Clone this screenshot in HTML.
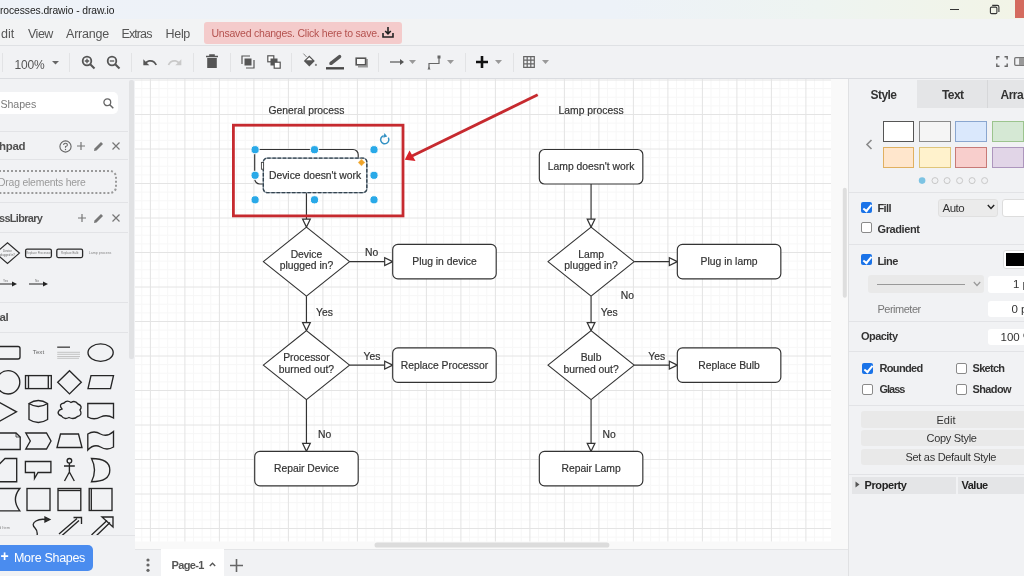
<!DOCTYPE html>
<html><head><meta charset="utf-8">
<style>
*{box-sizing:border-box;margin:0;padding:0}
html,body{width:1024px;height:576px;overflow:hidden;background:#f1f2f4;-webkit-font-smoothing:antialiased;font-family:"Liberation Sans",sans-serif;color:#333}
.a{position:absolute}
#canvas svg text{}
.t{position:absolute;white-space:nowrap;line-height:1}
#title{left:0;top:0;width:1024px;height:19px;background:linear-gradient(90deg,#eef2f8 0%,#edf2f8 60%,#eef4f1 80%,#f2f4e6 100%)}
#menubar{left:0;top:19px;width:1024px;height:27px;background:#f2f3f4;border-bottom:1px solid #dfe1e4}
#toolbar{left:0;top:46px;width:1024px;height:33px;background:#f1f2f4;border-bottom:1px solid #dadce0}
.sep{position:absolute;width:1px;background:#e2e3e5}
#left{left:0;top:79px;width:135px;height:497px;background:#f1f2f4}
#canvas{left:135px;top:79px;width:713px;height:470px;background:#f9f9f9;overflow:hidden}
#pagebar{left:135px;top:549px;width:713px;height:27px;background:#f1f2f4;border-top:1px solid #e4e5e7}
#right{left:848px;top:79px;width:176px;height:497px;background:#f1f2f4;border-left:1px solid #e0e1e3}
.hl{position:absolute;height:1px;background:#e2e3e6}
.cb{position:absolute;width:11px;height:11px;border-radius:2px}
.cb.on{background:#1a73e8}
.cb.on::after{content:"";position:absolute;left:3.6px;top:1.2px;width:3.4px;height:6.8px;border:solid #fff;border-width:0 2px 2px 0;transform:rotate(40deg)}
.cb.off{background:#fff;border:1px solid #8a8a8a}
.b{font-weight:bold}
</style></head>
<body>
<div id="root" style="position:absolute;left:0;top:0;width:1024px;height:576px;will-change:transform">
<div id="title" class="a"></div>
<div class="t" style="left:0px;top:5.5px;font-size:10.3px;color:#1c1c1c;letter-spacing:-0.07px">rocesses.drawio - draw.io</div>
<div class="a" style="left:950px;top:9px;width:9px;height:1px;background:#333"></div>
<svg class="a" style="left:988px;top:3px" width="13" height="13" viewBox="988 3 13 13"><rect x="990.4" y="7.1" width="6.5" height="6.5" rx="1.2" fill="none" stroke="#333" stroke-width="1.1"/><path d="M992.2 5.4H997.4Q998.9 5.4 998.9 6.9V12" fill="none" stroke="#333" stroke-width="1.1"/></svg>
<div class="a" style="left:1015px;top:0;width:9px;height:18px;background:#d46b5e"></div>

<div id="menubar" class="a"></div>
<div class="t" style="left:1px;top:28px;font-size:12.5px;color:#555">dit</div>
<div class="t" style="left:28px;top:28px;font-size:12.5px;color:#555;letter-spacing:-0.5px">View</div>
<div class="t" style="left:66px;top:28px;font-size:12.5px;color:#555;letter-spacing:-0.2px">Arrange</div>
<div class="t" style="left:121.5px;top:28px;font-size:12.5px;color:#555;letter-spacing:-0.9px">Extras</div>
<div class="t" style="left:165.5px;top:28px;font-size:12.5px;color:#555;letter-spacing:-0.3px">Help</div>
<div class="a" style="left:204px;top:22px;width:198px;height:22px;background:#f4cbcb;border-radius:3px"></div>
<div class="t" style="left:211.5px;top:28.3px;font-size:10.5px;color:#b4514e;letter-spacing:-0.23px">Unsaved changes. Click here to save.</div>
<svg class="a" style="left:382px;top:26px" width="12" height="12" viewBox="0 0 12 12"><path d="M6 1V7.5M3.2 5L6 7.8 8.8 5M1 7V11H11V7" fill="none" stroke="#222" stroke-width="1.6"/></svg>

<div id="toolbar" class="a"></div>
<div class="sep" style="left:2px;top:53px;height:19px"></div>
<div class="t" style="left:14.5px;top:59px;font-size:12px;color:#555;letter-spacing:-0.2px">100%</div>
<svg class="a" style="left:51.5px;top:61px" width="7" height="4"><path d="M0 0H7L3.5 3.5Z" fill="#666"/></svg>
<div class="sep" style="left:69px;top:53px;height:19px"></div>
<!-- zoom in/out -->
<svg class="a" style="left:81px;top:55px" width="15" height="15" viewBox="0 0 15 15"><circle cx="6" cy="6" r="4.3" fill="none" stroke="#555" stroke-width="1.8"/><path d="M9.2 9.2L13.5 13.5" stroke="#555" stroke-width="2"/><path d="M6 3.8V8.2M3.8 6H8.2" stroke="#555" stroke-width="1.3"/></svg>
<svg class="a" style="left:106px;top:55px" width="15" height="15" viewBox="0 0 15 15"><circle cx="6" cy="6" r="4.3" fill="none" stroke="#555" stroke-width="1.8"/><path d="M9.2 9.2L13.5 13.5" stroke="#555" stroke-width="2"/><path d="M3.8 6H8.2" stroke="#555" stroke-width="1.3"/></svg>
<div class="sep" style="left:131px;top:53px;height:19px"></div>
<svg class="a" style="left:142.5px;top:57.5px" width="16" height="12" viewBox="1.5 5 24 18"><path d="M12.5 8c-2.65 0-5.05.99-6.9 2.6L2 7v9h9l-3.62-3.62c1.39-1.16 3.16-1.88 5.12-1.88 3.54 0 6.55 2.31 7.6 5.5l2.370-.78C21.080 11.030 17.150 8 12.5 8z" fill="#555"/></svg>
<svg class="a" style="left:167px;top:57.5px" width="16" height="12" viewBox="0.5 5 24 18"><path d="M18.4 10.6C16.55 8.99 14.15 8 11.5 8c-4.65 0-8.58 3.03-9.96 7.22L3.9 16c1.05-3.19 4.05-5.5 7.6-5.5 1.95 0 3.73.72 5.12 1.88L13 16h9V7l-3.6 3.6z" fill="#c9c9c9"/></svg>
<div class="sep" style="left:193px;top:53px;height:19px"></div>
<svg class="a" style="left:205px;top:54px" width="14" height="15" viewBox="0 0 14 15"><path d="M1 2.5H13M5 2.5V1H9V2.5" stroke="#555" stroke-width="1.6" fill="none"/><path d="M2.2 4H11.8V14H2.2Z" fill="#555"/></svg>
<div class="sep" style="left:230px;top:53px;height:19px"></div>
<svg class="a" style="left:241px;top:55px" width="14" height="14" viewBox="0 0 14 14"><path d="M1 9V1H9" fill="none" stroke="#555" stroke-width="1.2"/><rect x="3.5" y="3.5" width="7" height="7" fill="#555"/><path d="M5 13H13V5" fill="none" stroke="#555" stroke-width="1.2"/></svg>
<svg class="a" style="left:267px;top:55px" width="14" height="14" viewBox="0 0 14 14"><rect x="0.8" y="0.8" width="6" height="6" fill="#fff" stroke="#555" stroke-width="1.2"/><rect x="3.5" y="3.5" width="7" height="7" fill="#555"/><rect x="7.2" y="7.2" width="6" height="6" fill="#fff" stroke="#555" stroke-width="1.2"/></svg>
<div class="sep" style="left:291px;top:53px;height:19px"></div>
<svg class="a" style="left:300px;top:50px" width="20" height="20" viewBox="300 50 20 20"><path d="M303.4 53.6L306.6 57" stroke="#777" stroke-width="0.9"/><path d="M303.8 61L309.3 55.5L314.8 61L309.3 66.5Z" fill="#555"/><path d="M306.2 60.2L309.3 57.2L312.4 60.2Z" fill="#fff"/><circle cx="315.9" cy="64.9" r="1.1" fill="#888"/></svg>
<svg class="a" style="left:324px;top:50px" width="22" height="22" viewBox="324 50 22 22"><path d="M331 63.3L339.6 56.6" stroke="#555" stroke-width="3.4" stroke-linecap="round"/><path d="M329.6 64.9L330.2 61.6L332.7 64Z" fill="#555"/><rect x="326" y="67.1" width="18" height="2.4" fill="#484848"/></svg>
<svg class="a" style="left:352px;top:54px" width="18" height="16" viewBox="352 54 18 16"><path d="M358 66.6H367V59" fill="none" stroke="#9a9a9a" stroke-width="1.8"/><rect x="356.2" y="58.2" width="9.4" height="6.6" fill="#fafafa" stroke="#555" stroke-width="1.6"/></svg>
<div class="sep" style="left:378px;top:53px;height:19px"></div>
<svg class="a" style="left:390px;top:58px" width="15" height="8" viewBox="0 0 15 8"><path d="M0 4H11" stroke="#555" stroke-width="1.2"/><path d="M10 1L14 4L10 7Z" fill="#555"/></svg>
<svg class="a" style="left:409px;top:60px" width="7" height="4"><path d="M0 0H7L3.5 4Z" fill="#999"/></svg>
<svg class="a" style="left:427px;top:55px" width="15" height="15" viewBox="0 0 15 15"><path d="M2 13V8.5H12V2" fill="none" stroke="#666" stroke-width="1.2"/><rect x="10.5" y="0.5" width="3" height="3" fill="#666"/><path d="M0.5 14.5L2 11.5 3.5 14.5Z" fill="#666"/></svg>
<svg class="a" style="left:447px;top:60px" width="7" height="4"><path d="M0 0H7L3.5 4Z" fill="#999"/></svg>
<div class="sep" style="left:465px;top:53px;height:19px"></div>
<svg class="a" style="left:476px;top:56px" width="12" height="12" viewBox="0 0 12 12"><path d="M6 0V12M0 6H12" stroke="#111" stroke-width="2.6"/></svg>
<svg class="a" style="left:495px;top:60px" width="7" height="4"><path d="M0 0H7L3.5 4Z" fill="#999"/></svg>
<div class="sep" style="left:513px;top:53px;height:19px"></div>
<svg class="a" style="left:523px;top:56px" width="12" height="12" viewBox="0 0 12 12"><path d="M0.7 0.7H11.3V11.3H0.7ZM0.7 4.2H11.3M0.7 7.8H11.3M4.2 0.7V11.3M7.8 0.7V11.3" fill="none" stroke="#666" stroke-width="1.2"/></svg>
<svg class="a" style="left:542px;top:60px" width="7" height="4"><path d="M0 0H7L3.5 4Z" fill="#999"/></svg>
<svg class="a" style="left:996px;top:56px" width="12" height="11" viewBox="0 0 12 11"><path d="M0.8 3.5V0.8H3.5M8.5 0.8H11.2V3.5M11.2 7.5V10.2H8.5M3.5 10.2H0.8V7.5" fill="none" stroke="#666" stroke-width="1.4"/></svg>
<svg class="a" style="left:1014px;top:57px" width="10" height="9" viewBox="0 0 10 9"><rect x="0.7" y="0.7" width="12" height="7.6" rx="1" fill="none" stroke="#777" stroke-width="1.3"/><rect x="5" y="1" width="6" height="7" fill="#999"/></svg>

<div id="left" class="a"></div>

<!-- LEFT PANEL -->
<div class="a" style="left:-10px;top:92px;width:128px;height:22px;background:#fff;border-radius:5px"></div>
<div class="t" style="left:0.5px;top:98.5px;font-size:10.6px;color:#7a7a7a;letter-spacing:-0.05px">Shapes</div>
<svg class="a" style="left:103px;top:98px" width="11" height="11" viewBox="0 0 11 11"><circle cx="4.3" cy="4.3" r="3.4" fill="none" stroke="#666" stroke-width="1.3"/><path d="M6.8 6.8L10.3 10.3" stroke="#666" stroke-width="1.5"/></svg>
<div class="hl" style="left:0;top:131px;width:128px"></div>
<div class="t b" style="left:-1px;top:141px;font-size:11.5px;color:#505050;letter-spacing:-0.3px">hpad</div>
<svg class="a" style="left:59px;top:140px" width="13" height="13" viewBox="0 0 13 13"><circle cx="6.5" cy="6.5" r="5.6" fill="none" stroke="#666" stroke-width="1.1"/><path d="M4.6 5.1Q4.6 3.3 6.5 3.3Q8.4 3.3 8.4 4.9Q8.4 6 6.5 6.6V7.8" fill="none" stroke="#666" stroke-width="1.1"/><circle cx="6.5" cy="9.5" r="0.7" fill="#666"/></svg>
<svg class="a" style="left:77px;top:142px" width="8" height="8" viewBox="0 0 8 8"><path d="M4 0V8M0 4H8" stroke="#777" stroke-width="1.2"/></svg>
<svg class="a" style="left:93px;top:141px" width="11" height="11" viewBox="0 0 11 11"><path d="M1 10L1.5 7.5L8 1L10 3L3.5 9.5Z" fill="#777"/></svg>
<svg class="a" style="left:112px;top:142px" width="8" height="8" viewBox="0 0 8 8"><path d="M0.5 0.5L7.5 7.5M7.5 0.5L0.5 7.5" stroke="#777" stroke-width="1.2"/></svg>
<div class="hl" style="left:0;top:159px;width:128px"></div>
<div class="a" style="left:-12px;top:170px;width:129px;height:24px;border:2px dotted #9a9a9a;border-radius:7px"></div>
<div class="t" style="left:-2px;top:177.5px;font-size:10.4px;color:#9a9a9a;letter-spacing:-0.2px">Drag elements here</div>
<div class="hl" style="left:0;top:202px;width:128px"></div>
<div class="t b" style="left:-1px;top:213px;font-size:11px;color:#505050;letter-spacing:-0.7px">ssLibrary</div>
<svg class="a" style="left:78px;top:214px" width="8" height="8" viewBox="0 0 8 8"><path d="M4 0V8M0 4H8" stroke="#777" stroke-width="1.2"/></svg>
<svg class="a" style="left:93px;top:213px" width="11" height="11" viewBox="0 0 11 11"><path d="M1 10L1.5 7.5L8 1L10 3L3.5 9.5Z" fill="#777"/></svg>
<svg class="a" style="left:112px;top:214px" width="8" height="8" viewBox="0 0 8 8"><path d="M0.5 0.5L7.5 7.5M7.5 0.5L0.5 7.5" stroke="#777" stroke-width="1.2"/></svg>
<div class="hl" style="left:0;top:232px;width:128px"></div>
<svg class="a" style="left:0;top:236px" width="128" height="60" viewBox="0 0 128 60">
 <path d="M-4.5 17.1L7.5 6.8L19.4 17.1L7.5 27.4Z" fill="none" stroke="#2a2a2a" stroke-width="1.2"/>
 <text x="7.5" y="16.2" font-size="2.9" text-anchor="middle" fill="#666" font-family="Liberation Sans">Device</text><text x="7.5" y="19.6" font-size="2.9" text-anchor="middle" fill="#666" font-family="Liberation Sans">plugged in?</text>
 <rect x="25.6" y="13.2" width="25.8" height="8.4" rx="1.5" fill="none" stroke="#2a2a2a" stroke-width="1.3"/>
 <rect x="56.8" y="13.2" width="25.8" height="8.4" rx="1.5" fill="none" stroke="#2a2a2a" stroke-width="1.3"/>
 <text x="38.5" y="18.4" font-size="2.9" text-anchor="middle" fill="#777" font-family="Liberation Sans">Replace Processor</text>
 <text x="69.7" y="18.4" font-size="2.9" text-anchor="middle" fill="#777" font-family="Liberation Sans">Replace Bulb</text>
 <text x="100" y="17.6" font-size="3.6" text-anchor="middle" fill="#888" font-family="Liberation Sans">Lamp process</text>
 <path d="M-2 48H13" stroke="#222" stroke-width="1"/><path d="M12 45.5L17 48L12 50.5Z" fill="#222"/>
 <path d="M29 48H44" stroke="#222" stroke-width="1"/><path d="M43 45.5L48 48L43 50.5Z" fill="#222"/>
 <text x="5.5" y="45.5" font-size="3.2" text-anchor="middle" fill="#777" font-family="Liberation Sans">Yes</text><text x="37" y="45.5" font-size="3.2" text-anchor="middle" fill="#777" font-family="Liberation Sans">No</text>
</svg>
<div class="hl" style="left:0;top:302px;width:128px"></div>
<div class="t b" style="left:-0.5px;top:312px;font-size:11.5px;color:#505050;letter-spacing:-0.5px">al</div>
<div class="hl" style="left:0;top:332px;width:128px"></div>
<svg class="a" style="left:0;top:335px" width="128" height="200" viewBox="0 335 128 200" fill="none" stroke="#262626" stroke-width="1.35">
 <rect x="-10" y="346.5" width="30" height="12.5" rx="2"/>
 <text x="38.5" y="354.2" font-size="6.2" text-anchor="middle" fill="#666" stroke="none" font-family="Liberation Sans">Text</text>
 <path d="M57.2 347.2H70" stroke="#555" stroke-width="1.5"/>
 <path d="M57.2 352.3H80M57.2 354.3H80M57.2 356.5H80M57.2 358.3H79" stroke="#c4c4c4" stroke-width="1"/>
 <ellipse cx="100.6" cy="352.6" rx="12.6" ry="8.7"/>
 <circle cx="8.1" cy="382.3" r="11.7"/>
 <rect x="25.5" y="375.6" width="25.8" height="13"/><path d="M28.5 375.6V388.6M48.3 375.6V388.6"/>
 <path d="M69.5 370.7L81.3 382.3L69.5 393.9L57.7 382.3Z"/>
 <path d="M91 375.6H113.5L110.5 388.6H88Z"/>
 <path d="M-3 401L16.5 411.8L-3 422.6"/>
 <path d="M29 403.5V419.5Q38.3 425.5 47.6 419.5V403.5Q38.3 397.5 29 403.5Q38.3 409.5 47.6 403.5"/>
 <path d="M62 409Q58 404 64 403Q67 399.5 71 402.5Q75 400 78 404Q83 406 80 410Q83 415 77.5 416.5Q74 420 69 417.5Q64 420 61.5 416Q56 414 59.5 410Z"/>
 <path d="M87.8 403.5H113.5V418Q107 414 100.5 417Q94 420.5 87.8 417Z"/>
 <path d="M-3 433H16L20.2 437V449.5H-3"/><path d="M16 433V437H20.2" stroke-width="0.8"/>
 <path d="M25.8 433H46.5L51 441L46.5 449H25.8L30.3 441Z"/>
 <path d="M60.5 434H78.5L82 447.5H57Z"/>
 <path d="M87.8 434Q94 430 100.5 434Q107 437.5 113.5 431.5V447Q107 451 100.5 447Q94 443.5 87.8 450Z"/>
 <path d="M5 458.5H16.7V481.7H-3V466.5Z"/>
 <path d="M25.4 461.5H50.9V472.5H38L34.5 478.5V472.5H25.4Z"/>
 <circle cx="69.4" cy="460.8" r="2.3"/><path d="M69.4 463.1V472M64 466H74.8M69.4 472L64.5 481M69.4 472L74.3 481"/>
 <path d="M91.5 458.5Q109.8 458.5 109.8 470Q109.8 481.7 91.5 481.7Q97.5 470 91.5 458.5Z"/>
 <path d="M-3 488.5H19.8Q11 499.5 19.8 510.8H-3Z"/>
 <rect x="27" y="488.5" width="23" height="22"/>
 <rect x="58" y="488.5" width="22.8" height="22"/><path d="M58 490.5H80.8"/>
 <rect x="89.2" y="488.5" width="22.8" height="22"/><path d="M91.3 488.5V510.5"/>
 <path d="M37 536Q38 531 35 528Q31 524 36 521Q40 518.5 46 519.5"/><path d="M45 517L49.8 519.5L45 522Z" fill="#333"/>
 <path d="M59 534L77 518.5M61.5 536L79 520.5"/><path d="M73.5 517.5H81.5V524" />
 <path d="M91.5 535L107 520.5M95 537L110 522.5"/><path d="M102 517H113V527Z"/>
</svg>
<div class="t" style="left:-1px;top:526px;font-size:4px;color:#888">d Item</div>
<div class="a" style="left:129px;top:80px;width:4.5px;height:279px;background:#e1e2e4;border-radius:2px"></div>
<div class="hl" style="left:0;top:535px;width:135px"></div>
<div class="a" style="left:-8px;top:545px;width:101px;height:26px;background:#4a8cef;border-radius:5px"></div>
<div class="t b" style="left:0.5px;top:549px;font-size:14px;color:#fff">+</div>
<div class="t" style="left:14px;top:551.5px;font-size:12.5px;color:#fff;letter-spacing:-0.3px">More Shapes</div>
<!--CANVAS_START-->
<div id="canvas" class="a"><svg width="713" height="470" style="position:absolute;left:0;top:0">
<rect x="0" y="0" width="696" height="462.5" fill="#fff"/>
<g stroke-width="1">
<path d="M6.78 0V462.5" stroke="#f7f7f7"/>
<path d="M24.03 0V462.5" stroke="#f7f7f7"/>
<path d="M32.65 0V462.5" stroke="#f7f7f7"/>
<path d="M41.28 0V462.5" stroke="#f7f7f7"/>
<path d="M58.53 0V462.5" stroke="#f7f7f7"/>
<path d="M67.15 0V462.5" stroke="#f7f7f7"/>
<path d="M75.78 0V462.5" stroke="#f7f7f7"/>
<path d="M93.03 0V462.5" stroke="#f7f7f7"/>
<path d="M101.65 0V462.5" stroke="#f7f7f7"/>
<path d="M110.28 0V462.5" stroke="#f7f7f7"/>
<path d="M127.52 0V462.5" stroke="#f7f7f7"/>
<path d="M136.15 0V462.5" stroke="#f7f7f7"/>
<path d="M144.77 0V462.5" stroke="#f7f7f7"/>
<path d="M162.02 0V462.5" stroke="#f7f7f7"/>
<path d="M170.65 0V462.5" stroke="#f7f7f7"/>
<path d="M179.27 0V462.5" stroke="#f7f7f7"/>
<path d="M196.52 0V462.5" stroke="#f7f7f7"/>
<path d="M205.15 0V462.5" stroke="#f7f7f7"/>
<path d="M213.78 0V462.5" stroke="#f7f7f7"/>
<path d="M231.02 0V462.5" stroke="#f7f7f7"/>
<path d="M239.65 0V462.5" stroke="#f7f7f7"/>
<path d="M248.27 0V462.5" stroke="#f7f7f7"/>
<path d="M265.53 0V462.5" stroke="#f7f7f7"/>
<path d="M274.15 0V462.5" stroke="#f7f7f7"/>
<path d="M282.77 0V462.5" stroke="#f7f7f7"/>
<path d="M300.02 0V462.5" stroke="#f7f7f7"/>
<path d="M308.65 0V462.5" stroke="#f7f7f7"/>
<path d="M317.27 0V462.5" stroke="#f7f7f7"/>
<path d="M334.52 0V462.5" stroke="#f7f7f7"/>
<path d="M343.15 0V462.5" stroke="#f7f7f7"/>
<path d="M351.77 0V462.5" stroke="#f7f7f7"/>
<path d="M369.03 0V462.5" stroke="#f7f7f7"/>
<path d="M377.65 0V462.5" stroke="#f7f7f7"/>
<path d="M386.27 0V462.5" stroke="#f7f7f7"/>
<path d="M403.52 0V462.5" stroke="#f7f7f7"/>
<path d="M412.15 0V462.5" stroke="#f7f7f7"/>
<path d="M420.77 0V462.5" stroke="#f7f7f7"/>
<path d="M438.02 0V462.5" stroke="#f7f7f7"/>
<path d="M446.65 0V462.5" stroke="#f7f7f7"/>
<path d="M455.28 0V462.5" stroke="#f7f7f7"/>
<path d="M472.53 0V462.5" stroke="#f7f7f7"/>
<path d="M481.15 0V462.5" stroke="#f7f7f7"/>
<path d="M489.77 0V462.5" stroke="#f7f7f7"/>
<path d="M507.02 0V462.5" stroke="#f7f7f7"/>
<path d="M515.65 0V462.5" stroke="#f7f7f7"/>
<path d="M524.27 0V462.5" stroke="#f7f7f7"/>
<path d="M541.52 0V462.5" stroke="#f7f7f7"/>
<path d="M550.15 0V462.5" stroke="#f7f7f7"/>
<path d="M558.77 0V462.5" stroke="#f7f7f7"/>
<path d="M576.02 0V462.5" stroke="#f7f7f7"/>
<path d="M584.65 0V462.5" stroke="#f7f7f7"/>
<path d="M593.27 0V462.5" stroke="#f7f7f7"/>
<path d="M610.52 0V462.5" stroke="#f7f7f7"/>
<path d="M619.15 0V462.5" stroke="#f7f7f7"/>
<path d="M627.77 0V462.5" stroke="#f7f7f7"/>
<path d="M645.02 0V462.5" stroke="#f7f7f7"/>
<path d="M653.65 0V462.5" stroke="#f7f7f7"/>
<path d="M662.27 0V462.5" stroke="#f7f7f7"/>
<path d="M679.53 0V462.5" stroke="#f7f7f7"/>
<path d="M688.15 0V462.5" stroke="#f7f7f7"/>
<path d="M0 9.62H696" stroke="#f7f7f7"/>
<path d="M0 18.25H696" stroke="#f7f7f7"/>
<path d="M0 26.88H696" stroke="#f7f7f7"/>
<path d="M0 44.12H696" stroke="#f7f7f7"/>
<path d="M0 52.75H696" stroke="#f7f7f7"/>
<path d="M0 61.38H696" stroke="#f7f7f7"/>
<path d="M0 78.62H696" stroke="#f7f7f7"/>
<path d="M0 87.25H696" stroke="#f7f7f7"/>
<path d="M0 95.88H696" stroke="#f7f7f7"/>
<path d="M0 113.12H696" stroke="#f7f7f7"/>
<path d="M0 121.75H696" stroke="#f7f7f7"/>
<path d="M0 130.38H696" stroke="#f7f7f7"/>
<path d="M0 147.62H696" stroke="#f7f7f7"/>
<path d="M0 156.25H696" stroke="#f7f7f7"/>
<path d="M0 164.88H696" stroke="#f7f7f7"/>
<path d="M0 182.12H696" stroke="#f7f7f7"/>
<path d="M0 190.75H696" stroke="#f7f7f7"/>
<path d="M0 199.38H696" stroke="#f7f7f7"/>
<path d="M0 216.62H696" stroke="#f7f7f7"/>
<path d="M0 225.25H696" stroke="#f7f7f7"/>
<path d="M0 233.88H696" stroke="#f7f7f7"/>
<path d="M0 251.12H696" stroke="#f7f7f7"/>
<path d="M0 259.75H696" stroke="#f7f7f7"/>
<path d="M0 268.38H696" stroke="#f7f7f7"/>
<path d="M0 285.62H696" stroke="#f7f7f7"/>
<path d="M0 294.25H696" stroke="#f7f7f7"/>
<path d="M0 302.88H696" stroke="#f7f7f7"/>
<path d="M0 320.12H696" stroke="#f7f7f7"/>
<path d="M0 328.75H696" stroke="#f7f7f7"/>
<path d="M0 337.38H696" stroke="#f7f7f7"/>
<path d="M0 354.62H696" stroke="#f7f7f7"/>
<path d="M0 363.25H696" stroke="#f7f7f7"/>
<path d="M0 371.88H696" stroke="#f7f7f7"/>
<path d="M0 389.13H696" stroke="#f7f7f7"/>
<path d="M0 397.75H696" stroke="#f7f7f7"/>
<path d="M0 406.38H696" stroke="#f7f7f7"/>
<path d="M0 423.62H696" stroke="#f7f7f7"/>
<path d="M0 432.25H696" stroke="#f7f7f7"/>
<path d="M0 440.88H696" stroke="#f7f7f7"/>
<path d="M0 458.12H696" stroke="#f7f7f7"/>
<path d="M15.40 0V462.5" stroke="#e4e4e4"/>
<path d="M49.90 0V462.5" stroke="#e4e4e4"/>
<path d="M84.40 0V462.5" stroke="#e4e4e4"/>
<path d="M118.90 0V462.5" stroke="#e4e4e4"/>
<path d="M153.40 0V462.5" stroke="#e4e4e4"/>
<path d="M187.90 0V462.5" stroke="#e4e4e4"/>
<path d="M222.40 0V462.5" stroke="#e4e4e4"/>
<path d="M256.90 0V462.5" stroke="#e4e4e4"/>
<path d="M291.40 0V462.5" stroke="#e4e4e4"/>
<path d="M325.90 0V462.5" stroke="#e4e4e4"/>
<path d="M360.40 0V462.5" stroke="#e4e4e4"/>
<path d="M394.90 0V462.5" stroke="#e4e4e4"/>
<path d="M429.40 0V462.5" stroke="#e4e4e4"/>
<path d="M463.90 0V462.5" stroke="#e4e4e4"/>
<path d="M498.40 0V462.5" stroke="#e4e4e4"/>
<path d="M532.90 0V462.5" stroke="#e4e4e4"/>
<path d="M567.40 0V462.5" stroke="#e4e4e4"/>
<path d="M601.90 0V462.5" stroke="#e4e4e4"/>
<path d="M636.40 0V462.5" stroke="#e4e4e4"/>
<path d="M670.90 0V462.5" stroke="#e4e4e4"/>
<path d="M0 1.00H696" stroke="#e4e4e4"/>
<path d="M0 35.50H696" stroke="#e4e4e4"/>
<path d="M0 70.00H696" stroke="#e4e4e4"/>
<path d="M0 104.50H696" stroke="#e4e4e4"/>
<path d="M0 139.00H696" stroke="#e4e4e4"/>
<path d="M0 173.50H696" stroke="#e4e4e4"/>
<path d="M0 208.00H696" stroke="#e4e4e4"/>
<path d="M0 242.50H696" stroke="#e4e4e4"/>
<path d="M0 277.00H696" stroke="#e4e4e4"/>
<path d="M0 311.50H696" stroke="#e4e4e4"/>
<path d="M0 346.00H696" stroke="#e4e4e4"/>
<path d="M0 380.50H696" stroke="#e4e4e4"/>
<path d="M0 415.00H696" stroke="#e4e4e4"/>
<path d="M0 449.50H696" stroke="#e4e4e4"/>
</g>
<g transform="translate(16.19999999999999 36.0) scale(0.8625)">
<text x="180" y="-1.6" font-family="Liberation Sans" font-size="12" fill="#333" stroke="#333" stroke-width="0.22" text-anchor="middle">General process</text>
<text x="510" y="-1.6" font-family="Liberation Sans" font-size="12" fill="#333" stroke="#333" stroke-width="0.22" text-anchor="middle">Lamp process</text>
<path d="M180 80V120.7" stroke="#333" stroke-width="1.35" fill="none"/><path d="M180 130L175.5 120.7L184.5 120.7Z" fill="#fff" stroke="#333" stroke-width="1.35"/>
<path d="M180 210V240.7" stroke="#333" stroke-width="1.35" fill="none"/><path d="M180 250L175.5 240.7L184.5 240.7Z" fill="#fff" stroke="#333" stroke-width="1.35"/>
<path d="M180 330V380.7" stroke="#333" stroke-width="1.35" fill="none"/><path d="M180 390L175.5 380.7L184.5 380.7Z" fill="#fff" stroke="#333" stroke-width="1.35"/>
<path d="M230 170H270.7" stroke="#333" stroke-width="1.35" fill="none"/><path d="M280 170L270.7 165.5L270.7 174.5Z" fill="#fff" stroke="#333" stroke-width="1.35"/>
<path d="M230 290H270.7" stroke="#333" stroke-width="1.35" fill="none"/><path d="M280 290L270.7 285.5L270.7 294.5Z" fill="#fff" stroke="#333" stroke-width="1.35"/>
<path d="M510 80V120.7" stroke="#333" stroke-width="1.35" fill="none"/><path d="M510 130L505.5 120.7L514.5 120.7Z" fill="#fff" stroke="#333" stroke-width="1.35"/>
<path d="M510 210V240.7" stroke="#333" stroke-width="1.35" fill="none"/><path d="M510 250L505.5 240.7L514.5 240.7Z" fill="#fff" stroke="#333" stroke-width="1.35"/>
<path d="M510 330V380.7" stroke="#333" stroke-width="1.35" fill="none"/><path d="M510 390L505.5 380.7L514.5 380.7Z" fill="#fff" stroke="#333" stroke-width="1.35"/>
<path d="M560 170H600.7" stroke="#333" stroke-width="1.35" fill="none"/><path d="M610 170L600.7 165.5L600.7 174.5Z" fill="#fff" stroke="#333" stroke-width="1.35"/>
<path d="M560 290H600.7" stroke="#333" stroke-width="1.35" fill="none"/><path d="M610 290L600.7 285.5L600.7 294.5Z" fill="#fff" stroke="#333" stroke-width="1.35"/>
<text x="201" y="233.2" font-family="Liberation Sans" font-size="12" fill="#333" stroke="#333" stroke-width="0.22" text-anchor="middle">Yes</text>
<text x="255.5" y="163.89999999999998" font-family="Liberation Sans" font-size="12" fill="#333" stroke="#333" stroke-width="0.22" text-anchor="middle">No</text>
<text x="256" y="284.2" font-family="Liberation Sans" font-size="12" fill="#333" stroke="#333" stroke-width="0.22" text-anchor="middle">Yes</text>
<text x="201" y="374.2" font-family="Liberation Sans" font-size="12" fill="#333" stroke="#333" stroke-width="0.22" text-anchor="middle">No</text>
<text x="531" y="233.2" font-family="Liberation Sans" font-size="12" fill="#333" stroke="#333" stroke-width="0.22" text-anchor="middle">Yes</text>
<text x="552" y="213.79999999999998" font-family="Liberation Sans" font-size="12" fill="#333" stroke="#333" stroke-width="0.22" text-anchor="middle">No</text>
<text x="586" y="284.2" font-family="Liberation Sans" font-size="12" fill="#333" stroke="#333" stroke-width="0.22" text-anchor="middle">Yes</text>
<text x="531" y="374.2" font-family="Liberation Sans" font-size="12" fill="#333" stroke="#333" stroke-width="0.22" text-anchor="middle">No</text>
<rect x="120" y="40" width="120" height="40" rx="6" fill="#fff" stroke="#333" stroke-width="1.35"/><text x="180.0" y="64.2" font-family="Liberation Sans" font-size="12" fill="#333" stroke="#333" stroke-width="0.22" text-anchor="middle"></text>
<rect x="280" y="150" width="120" height="40" rx="6" fill="#fff" stroke="#333" stroke-width="1.35"/><text x="340.0" y="174.2" font-family="Liberation Sans" font-size="12" fill="#333" stroke="#333" stroke-width="0.22" text-anchor="middle">Plug in device</text>
<rect x="280" y="270" width="120" height="40" rx="6" fill="#fff" stroke="#333" stroke-width="1.35"/><text x="340.0" y="294.2" font-family="Liberation Sans" font-size="12" fill="#333" stroke="#333" stroke-width="0.22" text-anchor="middle">Replace Processor</text>
<rect x="120" y="390" width="120" height="40" rx="6" fill="#fff" stroke="#333" stroke-width="1.35"/><text x="180.0" y="414.2" font-family="Liberation Sans" font-size="12" fill="#333" stroke="#333" stroke-width="0.22" text-anchor="middle">Repair Device</text>
<rect x="450" y="40" width="120" height="40" rx="6" fill="#fff" stroke="#333" stroke-width="1.35"/><text x="510.0" y="64.2" font-family="Liberation Sans" font-size="12" fill="#333" stroke="#333" stroke-width="0.22" text-anchor="middle">Lamp doesn't work</text>
<rect x="610" y="150" width="120" height="40" rx="6" fill="#fff" stroke="#333" stroke-width="1.35"/><text x="670.0" y="174.2" font-family="Liberation Sans" font-size="12" fill="#333" stroke="#333" stroke-width="0.22" text-anchor="middle">Plug in lamp</text>
<rect x="610" y="270" width="120" height="40" rx="6" fill="#fff" stroke="#333" stroke-width="1.35"/><text x="670.0" y="294.2" font-family="Liberation Sans" font-size="12" fill="#333" stroke="#333" stroke-width="0.22" text-anchor="middle">Replace Bulb</text>
<rect x="450" y="390" width="120" height="40" rx="6" fill="#fff" stroke="#333" stroke-width="1.35"/><text x="510.0" y="414.2" font-family="Liberation Sans" font-size="12" fill="#333" stroke="#333" stroke-width="0.22" text-anchor="middle">Repair Lamp</text>
<path d="M130 170.0L180.0 130L230 170.0L180.0 210Z" fill="#fff" stroke="#333" stroke-width="1.35" stroke-linejoin="round"/><text x="180.0" y="165.5" font-family="Liberation Sans" font-size="12" fill="#333" stroke="#333" stroke-width="0.22" text-anchor="middle">Device</text><text x="180.0" y="179.1" font-family="Liberation Sans" font-size="12" fill="#333" stroke="#333" stroke-width="0.22" text-anchor="middle">plugged in?</text>
<path d="M130 290.0L180.0 250L230 290.0L180.0 330Z" fill="#fff" stroke="#333" stroke-width="1.35" stroke-linejoin="round"/><text x="180.0" y="285.5" font-family="Liberation Sans" font-size="12" fill="#333" stroke="#333" stroke-width="0.22" text-anchor="middle">Processor</text><text x="180.0" y="299.1" font-family="Liberation Sans" font-size="12" fill="#333" stroke="#333" stroke-width="0.22" text-anchor="middle">burned out?</text>
<path d="M460 170.0L510.0 130L560 170.0L510.0 210Z" fill="#fff" stroke="#333" stroke-width="1.35" stroke-linejoin="round"/><text x="510.0" y="165.5" font-family="Liberation Sans" font-size="12" fill="#333" stroke="#333" stroke-width="0.22" text-anchor="middle">Lamp</text><text x="510.0" y="179.1" font-family="Liberation Sans" font-size="12" fill="#333" stroke="#333" stroke-width="0.22" text-anchor="middle">plugged in?</text>
<path d="M460 290.0L510.0 250L560 290.0L510.0 330Z" fill="#fff" stroke="#333" stroke-width="1.35" stroke-linejoin="round"/><text x="510.0" y="285.5" font-family="Liberation Sans" font-size="12" fill="#333" stroke="#333" stroke-width="0.22" text-anchor="middle">Bulb</text><text x="510.0" y="299.1" font-family="Liberation Sans" font-size="12" fill="#333" stroke="#333" stroke-width="0.22" text-anchor="middle">burned out?</text>
<rect x="130" y="50" width="120" height="40" rx="4.5" fill="#fff" stroke="#8a98a3" stroke-width="1.6"/><rect x="130" y="50" width="120" height="40" rx="4.5" fill="none" stroke="#33434f" stroke-width="1.6" stroke-dasharray="4 2"/><text x="190" y="74.2" font-family="Liberation Sans" font-size="12" fill="#333" stroke="#333" stroke-width="0.22" text-anchor="middle">Device doesn't work</text>
</g>
<rect x="126.39999999999998" y="83.4" width="2.2" height="6.8" fill="#fff" stroke="#444" stroke-width="0.9"/>
<circle cx="120.1" cy="70.7" r="4.1" fill="#29a9e8" stroke="#fff" stroke-width="1"/>
<circle cx="179.5" cy="70.7" r="4.1" fill="#29a9e8" stroke="#fff" stroke-width="1"/>
<circle cx="239.0" cy="70.7" r="4.1" fill="#29a9e8" stroke="#fff" stroke-width="1"/>
<circle cx="120.1" cy="96.3" r="4.1" fill="#29a9e8" stroke="#fff" stroke-width="1"/>
<circle cx="239.0" cy="96.3" r="4.1" fill="#29a9e8" stroke="#fff" stroke-width="1"/>
<circle cx="120.1" cy="120.8" r="4.1" fill="#29a9e8" stroke="#fff" stroke-width="1"/>
<circle cx="179.5" cy="120.8" r="4.1" fill="#29a9e8" stroke="#fff" stroke-width="1"/>
<circle cx="239.0" cy="120.8" r="4.1" fill="#29a9e8" stroke="#fff" stroke-width="1"/>
<path d="M226.50 79.80L230.20 83.50L226.50 87.20L222.80 83.50Z" fill="#f0a428" stroke="#fff" stroke-width="0.6"/>
<path d="M253.30 58.60A4.1 4.1 0 1 1 248.60 56.70" fill="none" stroke="#3592c4" stroke-width="1.5"/><path d="M249.50 54.00L252.20 57.40L248.30 58.80Z" fill="#3592c4"/>
<rect x="239.5" y="463.4" width="234.9" height="5.2" rx="2.6" fill="#dcdcdc"/>
<rect x="707.8" y="108.8" width="4" height="110" rx="2" fill="#dedede"/>
<rect x="98.4" y="46.2" width="169.6" height="90.7" fill="none" stroke="#c62a2f" stroke-width="2.8"/>
<path d="M402.70 15.80L277.00 77.00" stroke="#c62a2f" stroke-width="2.8" fill="none"/>
<path d="M269.80 80.70L274.50 71.50L280.50 82.00Z" fill="#d8232a"/>
</svg></div>
<!--CANVAS_END-->
<div id="pagebar" class="a"></div>
<div id="right" class="a"></div>

<!-- RIGHT PANEL -->
<div class="a" style="left:917px;top:80px;width:107px;height:28px;background:#e4e5e7"></div>
<div class="a" style="left:987px;top:80px;width:1px;height:28px;background:#d6d7d9"></div>
<div class="t b" style="left:870.5px;top:89px;font-size:12px;color:#333;letter-spacing:-0.55px">Style</div>
<div class="t b" style="left:942px;top:89px;font-size:12px;color:#333;letter-spacing:-0.6px">Text</div>
<div class="t b" style="left:1000.5px;top:89px;font-size:12px;color:#333;letter-spacing:-0.5px">Arrange</div>
<svg class="a" style="left:865px;top:139px" width="8" height="11" viewBox="0 0 8 11"><path d="M6.5 1L2 5.5L6.5 10" fill="none" stroke="#8a8a8a" stroke-width="1.6"/></svg>
<div class="a" style="left:883px;top:121px;width:31px;height:21px;background:#fff;border:1px solid #555"></div>
<div class="a" style="left:919px;top:121px;width:31.5px;height:21px;background:#f5f5f5;border:1px solid #8a8a8a"></div>
<div class="a" style="left:955px;top:121px;width:32px;height:21px;background:#dae8fc;border:1px solid #8aa6cf"></div>
<div class="a" style="left:992px;top:121px;width:32px;height:21px;background:#d5e8d4;border:1px solid #9cc48e"></div>
<div class="a" style="left:883px;top:147px;width:31px;height:21px;background:#ffe6cc;border:1px solid #e0b060"></div>
<div class="a" style="left:919px;top:147px;width:31.5px;height:21px;background:#fff2cc;border:1px solid #dfc57a"></div>
<div class="a" style="left:955px;top:147px;width:32px;height:21px;background:#f8cecc;border:1px solid #c77a77"></div>
<div class="a" style="left:992px;top:147px;width:32px;height:21px;background:#e1d5e7;border:1px solid #ad96bd"></div>
<svg class="a" style="left:917px;top:176px" width="72" height="9" viewBox="0 0 72 9"><circle cx="5.1" cy="4.6" r="3.3" fill="#7cc3e3"/><g fill="none" stroke="#c8c8c8" stroke-width="1"><circle cx="18" cy="4.6" r="3"/><circle cx="30.1" cy="4.6" r="3"/><circle cx="42.6" cy="4.6" r="3"/><circle cx="55.1" cy="4.6" r="3"/><circle cx="67.6" cy="4.6" r="3"/></g></svg>
<div class="hl" style="left:849px;top:191.6px;width:175px"></div>
<div class="cb on" style="left:861px;top:202px"></div>
<div class="t b" style="left:877.5px;top:202.5px;font-size:11px;color:#333;letter-spacing:-0.6px">Fill</div>
<div class="a" style="left:938px;top:198.5px;width:60px;height:18px;background:#ebebeb;border:1px solid #e0e0e0;border-radius:3px"></div>
<div class="t" style="left:942.5px;top:202.5px;font-size:11.5px;color:#333;letter-spacing:-0.5px">Auto</div>
<svg class="a" style="left:987px;top:204px" width="8" height="6" viewBox="0 0 8 6"><path d="M0.8 1L4 4.5L7.2 1" fill="none" stroke="#222" stroke-width="1.4"/></svg>
<div class="a" style="left:1002px;top:198.5px;width:30px;height:18px;background:#fff;border:1px solid #ddd;border-radius:3px"></div>
<div class="cb off" style="left:861px;top:222px"></div>
<div class="t b" style="left:877.5px;top:223.5px;font-size:11px;color:#333;letter-spacing:-0.4px">Gradient</div>
<div class="hl" style="left:849px;top:244px;width:175px"></div>
<div class="cb on" style="left:861px;top:254px"></div>
<div class="t b" style="left:877.5px;top:255.5px;font-size:11px;color:#333;letter-spacing:-0.6px">Line</div>
<div class="a" style="left:1003px;top:250px;width:30px;height:19px;background:#fff;border:1px solid #ddd;border-radius:3px"></div>
<div class="a" style="left:1006px;top:252.5px;width:20px;height:13px;background:#000"></div>
<div class="a" style="left:867.5px;top:274.5px;width:116px;height:18.5px;background:#e9e9e9;border-radius:3px"></div>
<div class="a" style="left:876.5px;top:283.5px;width:88px;height:1px;background:#999"></div>
<svg class="a" style="left:973px;top:281px" width="8" height="6" viewBox="0 0 8 6"><path d="M0.8 1L4 4.5L7.2 1" fill="none" stroke="#999" stroke-width="1.2"/></svg>
<div class="a" style="left:988px;top:275.5px;width:40px;height:17px;background:#fff;border-radius:3px"></div>
<div class="t" style="left:1013px;top:279px;font-size:11.5px;color:#333">1 pt</div>
<div class="t" style="left:877.5px;top:304px;font-size:11px;color:#777;letter-spacing:-0.5px">Perimeter</div>
<div class="a" style="left:988px;top:300.5px;width:40px;height:16px;background:#fff;border-radius:3px"></div>
<div class="t" style="left:1011.5px;top:303.5px;font-size:11.5px;color:#333">0 pt</div>
<div class="hl" style="left:849px;top:321px;width:175px"></div>
<div class="t b" style="left:861px;top:331px;font-size:11px;color:#333;letter-spacing:-0.55px">Opacity</div>
<div class="a" style="left:988px;top:328.5px;width:40px;height:16.5px;background:#fff;border-radius:3px"></div>
<div class="t" style="left:1000.5px;top:331.5px;font-size:11.5px;color:#333">100 %</div>
<div class="hl" style="left:849px;top:351px;width:175px"></div>
<div class="cb on" style="left:862px;top:362.5px"></div>
<div class="t b" style="left:879.5px;top:363px;font-size:11px;color:#333;letter-spacing:-0.65px">Rounded</div>
<div class="cb off" style="left:955.5px;top:362.5px"></div>
<div class="t b" style="left:972.5px;top:363px;font-size:11px;color:#333;letter-spacing:-0.7px">Sketch</div>
<div class="cb off" style="left:862px;top:383.5px"></div>
<div class="t b" style="left:879.5px;top:383.5px;font-size:11px;color:#333;letter-spacing:-1px">Glass</div>
<div class="cb off" style="left:955.5px;top:383.5px"></div>
<div class="t b" style="left:972.5px;top:383.5px;font-size:11px;color:#333;letter-spacing:-0.6px">Shadow</div>
<div class="hl" style="left:849px;top:405px;width:175px"></div>
<div class="a" style="left:861px;top:411px;width:170px;height:17px;background:#e9e9e9;border-radius:3px"></div>
<div class="t" style="left:936.5px;top:414.5px;font-size:11px;color:#333">Edit</div>
<div class="a" style="left:861px;top:430px;width:170px;height:16px;background:#e9e9e9;border-radius:3px"></div>
<div class="t" style="left:926.5px;top:433px;font-size:11px;color:#333;letter-spacing:-0.3px">Copy Style</div>
<div class="a" style="left:861px;top:449px;width:170px;height:16px;background:#e9e9e9;border-radius:3px"></div>
<div class="t" style="left:905.5px;top:452px;font-size:11px;color:#333;letter-spacing:-0.3px">Set as Default Style</div>
<div class="hl" style="left:849px;top:474px;width:175px"></div>
<div class="a" style="left:852px;top:476.5px;width:104px;height:17px;background:#e4e5e7"></div>
<div class="a" style="left:958px;top:476.5px;width:66px;height:17px;background:#e4e5e7"></div>
<svg class="a" style="left:855px;top:481px" width="5" height="7"><path d="M0.5 0.5L4.5 3.5L0.5 6.5Z" fill="#555"/></svg>
<div class="t b" style="left:864.5px;top:480px;font-size:11px;color:#222;letter-spacing:-0.4px">Property</div>
<div class="t b" style="left:961.5px;top:480px;font-size:11px;color:#222;letter-spacing:-0.5px">Value</div>

<!-- PAGE BAR -->
<svg class="a" style="left:145px;top:557px" width="6" height="16" viewBox="0 0 6 16"><circle cx="3" cy="3" r="1.6" fill="#666"/><circle cx="3" cy="8" r="1.6" fill="#666"/><circle cx="3" cy="13.3" r="1.6" fill="#666"/></svg>
<div class="a" style="left:160.5px;top:549px;width:63px;height:27px;background:#fff"></div>
<div class="t b" style="left:171.5px;top:560px;font-size:11px;color:#555;letter-spacing:-0.65px">Page-1</div>
<svg class="a" style="left:209px;top:562px" width="7" height="5" viewBox="0 0 7 5"><path d="M0.8 4L3.5 1.2L6.2 4" fill="none" stroke="#555" stroke-width="1.3"/></svg>
<svg class="a" style="left:230px;top:559px" width="13" height="13" viewBox="0 0 13 13"><path d="M6.5 0V13M0 6.5H13" stroke="#666" stroke-width="1.6"/></svg>
</div>
</body></html>
